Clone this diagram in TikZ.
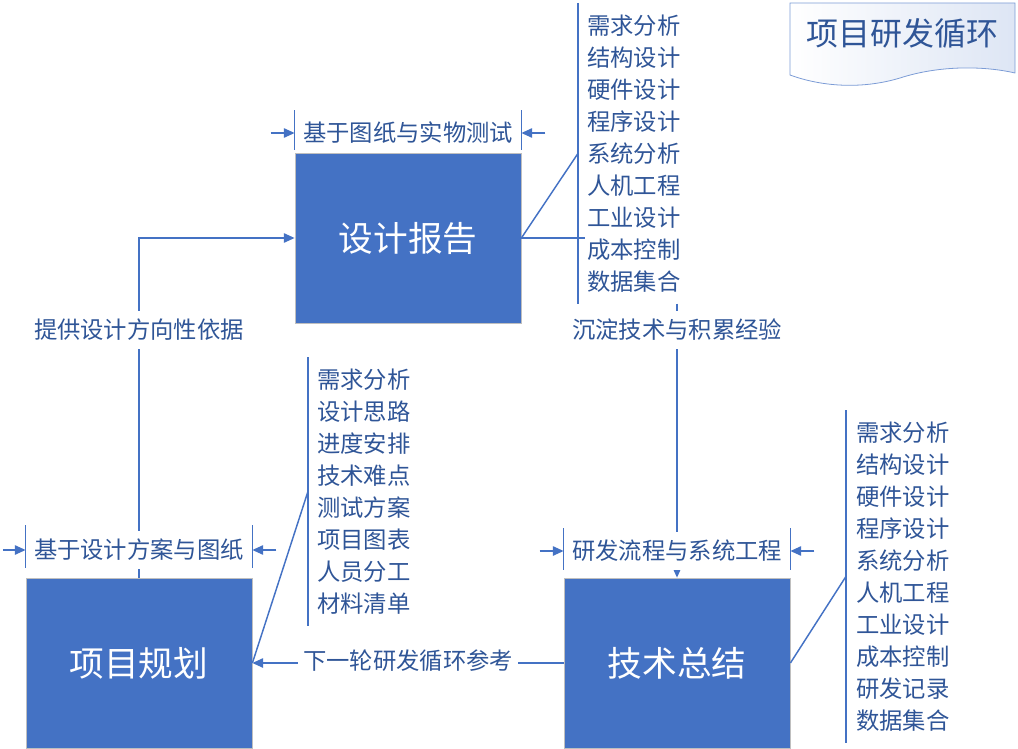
\documentclass[tikz,border=0pt]{standalone}
\usepackage{fontspec}
\setmainfont{Noto Sans CJK SC}
\usetikzlibrary{positioning,arrows.meta}
\definecolor{boxblue}{HTML}{4472C4}
\definecolor{txtblue}{HTML}{2F5597}

\begin{document}
\begin{tikzpicture}[
  x=0.75pt, y=-0.75pt,
  every node/.style={font=\fontsize{17.5}{24}\selectfont, text=txtblue},
  mainbox/.style={
    draw=gray!50, line width=0.6pt, fill=boxblue,
    minimum width=169.5pt, minimum height=127.5pt,
    text=white, font=\fontsize{26}{30}\selectfont
  },
  tag/.style={fill=white, inner xsep=4pt, inner ysep=6pt},
  items/.style={align=left, anchor=north west, inner xsep=0pt, inner ysep=8.5pt},
  link/.style={draw=boxblue, line width=1.1pt},
  arr/.style={link, -{Triangle[length=8pt,width=7pt]}}
]
  \useasboundingbox (0,0) rectangle (1018,749);

  % Title
  \path[draw=boxblue!70, line width=0.6pt, left color=white, right color=boxblue!18]
    (790,3) -- (1015,3) -- (1015,73)
    .. controls (985,66) and (940,65) .. (900,78)
    .. controls (860,90) and (820,86) .. (790,75) -- cycle;
  \node[font=\fontsize{24}{28}\selectfont] (title) at (902,33) {项目研发循环};

  % Main blocks
  \node[mainbox] (report) at (408,238) {设计报告};
  \node[mainbox] (plan) at (139,663) {项目规划};
  \node[mainbox] (summary) at (677,663) {技术总结};

  % Item lists
  \node[items] (reportlist) at (587,3) {需求分析\\结构设计\\硬件设计\\程序设计\\系统分析\\人机工程\\工业设计\\成本控制\\数据集合};
  \node[items] (planlist) at (317,357) {需求分析\\设计思路\\进度安排\\技术难点\\测试方案\\项目图表\\人员分工\\材料清单};
  \node[items] (summarylist) at (856,410) {需求分析\\结构设计\\硬件设计\\程序设计\\系统分析\\人机工程\\工业设计\\成本控制\\研发记录\\数据集合};

  % Braces and leaders
  \draw[link] ([xshift=-6.75pt]reportlist.north west) -- ([xshift=-6.75pt]reportlist.south west);
  \draw[link] ([xshift=-6.75pt]planlist.north west) -- ([xshift=-6.75pt]planlist.south west);
  \draw[link] ([xshift=-7.5pt]summarylist.north west) -- ([xshift=-7.5pt]summarylist.south west);
  \draw[link] (report.east) -- ([xshift=-6.75pt]reportlist.west);
  \draw[link] (report.east) -- ([xshift=-1.5pt]reportlist.west |- report.east);
  \draw[link] (plan.east) -- ([xshift=-6.75pt]planlist.west);
  \draw[link] (summary.east) -- ([xshift=-7.5pt]summarylist.west);

  % Flow arrows
  \draw[arr] (plan.north) |- (report.west);
  \draw[arr] (summary.north |- reportlist.south) -- (summary.north);
  \draw[arr] (summary.west) -- (plan.east);

  \node[tag] (basistag) at (139,330) {提供设计方向性依据};
  \node[tag] (settletag) at (677,330) {沉淀技术与积累经验};
  \node[tag] (nexttag) at (408,661) {下一轮研发循环参考};

  % Dimension labels
  \node[tag] (testtag) at (408,133) {基于图纸与实物测试};
  \draw[link] (report.north west) ++(0,-3) -- ++(0,-40);
  \draw[link] (report.north east) ++(0,-3) -- ++(0,-40);
  \draw[arr] ([xshift=-18pt]report.west |- testtag) -- (report.west |- testtag);
  \draw[arr] ([xshift=18pt]report.east |- testtag) -- (report.east |- testtag);

  \node[tag] (drawtag) at (139,550) {基于设计方案与图纸};
  \draw[link] (plan.north west) ++(0,-10) -- ++(0,-43);
  \draw[link] (plan.north east) ++(0,-10) -- ++(0,-43);
  \draw[arr] ([xshift=-17pt]plan.west |- drawtag) -- (plan.west |- drawtag);
  \draw[arr] ([xshift=18pt]plan.east |- drawtag) -- (plan.east |- drawtag);

  \node[tag] (flowtag) at (677,551) {研发流程与系统工程};
  \draw[link] (summary.north west) ++(0,-8) -- ++(0,-42);
  \draw[link] (summary.north east) ++(0,-8) -- ++(0,-42);
  \draw[arr] ([xshift=-18pt]summary.west |- flowtag) -- (summary.west |- flowtag);
  \draw[arr] ([xshift=18pt]summary.east |- flowtag) -- (summary.east |- flowtag);
\end{tikzpicture}
\end{document}
